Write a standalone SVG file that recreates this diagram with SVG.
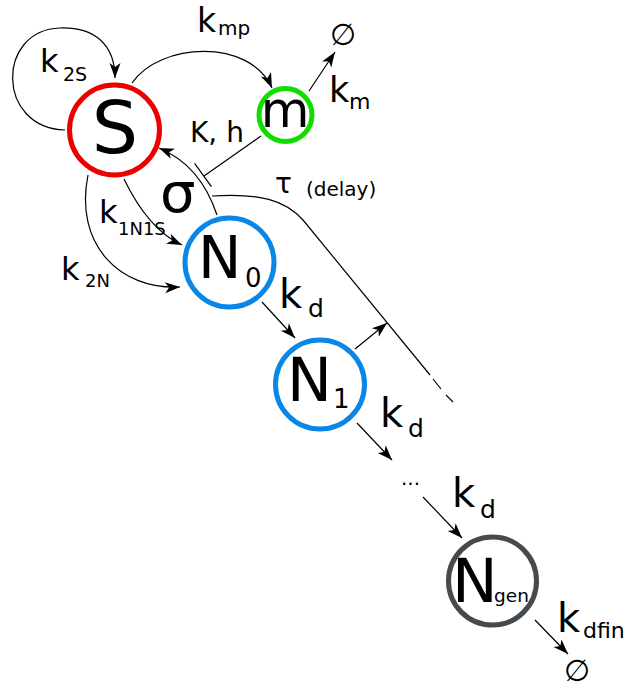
<svg xmlns="http://www.w3.org/2000/svg" width="625" height="689" viewBox="0 0 625 689">
<style>
text{font-family:"DejaVu Sans","Liberation Sans",sans-serif;fill:#000}
.node{fill:none;stroke-width:5}
.c{fill:none;stroke:#000;stroke-width:1.2}
.a{marker-end:url(#ah)}
</style>
<defs>
<marker id="ah" markerUnits="userSpaceOnUse" markerWidth="20" markerHeight="14" viewBox="-16 -7 18 14" refX="0" refY="0" orient="auto">
<path d="M0,0 L-15,-5.5 L-11,0 L-15,5.5 Z" fill="#000"/>
</marker>
</defs>
<rect width="625" height="689" fill="#fff"/>
<g id="connectors">
<path class="c a" d="M65,130 C-4,128 -4,30 60,28 C95,27 115,45 115,78"/>
<path class="c a" d="M132,83 C160,42 250,38 272,88"/>
<path class="c a" d="M309,91 L335,52"/>
<path class="c" d="M261,136 L204,176"/>
<path class="c" d="M194.6,163.3 L211.4,186.7"/>
<path class="c a" d="M217,215 C206,182 188,160 159,148"/>
<path class="c" d="M212,196 C260,193 285,200 303,220 L430,375"/>
<path class="c" d="M433,379 L441,389 M446,395 L453,402"/>
<path class="c a" d="M355,349 L387,323"/>
<path class="c a" d="M124,179 C140,212 160,235 182,245"/>
<path class="c a" d="M88,175 C74,245 120,290 180,287"/>
<path class="c a" d="M262,302 L295,338"/>
<path class="c a" d="M357,423 L392,460"/>
<path class="c a" d="M423,497 L462,538"/>
<path class="c a" d="M535,620 L568,654"/>
</g>
<g id="node-S">
<circle class="node" cx="114.5" cy="130" r="45" stroke="#ec0000"/>
<text x="115" y="153" font-size="73" text-anchor="middle">S</text>
</g>
<g id="node-m">
<circle class="node" cx="285.5" cy="115" r="26.5" stroke="#11dd00"/>
<text x="285" y="127" font-size="50" text-anchor="middle">m</text>
</g>
<g id="node-N0">
<circle class="node" cx="229.5" cy="262.5" r="44.5" stroke="#0a87e6"/>
<text x="198" y="278" font-size="58">N</text>
<text x="245" y="287" font-size="26">0</text>
</g>
<g id="node-N1">
<circle class="node" cx="320" cy="384.5" r="44.5" stroke="#0a87e6"/>
<text x="287" y="401" font-size="60">N</text>
<text x="333" y="408" font-size="26">1</text>
</g>
<g id="node-Ngen">
<circle class="node" cx="492.5" cy="581" r="44" stroke="#454a4f"/>
<text x="452" y="602" font-size="61">N</text>
<text x="494" y="602" font-size="18.5">gen</text>
</g>
<g id="labels">
<text x="40" y="72" font-size="32">k</text><text x="63" y="81" font-size="19">2S</text>
<text x="197" y="32" font-size="33">k</text><text x="218" y="35" font-size="20">mp</text>
<text x="329" y="102" font-size="35">k</text><text x="349" y="109" font-size="22">m</text>
<text x="190" y="142" font-size="28">K, h</text>
<text x="160" y="212" font-size="56">σ</text>
<text x="275" y="193" font-size="28">τ</text><text x="306" y="196" font-size="20">(delay)</text>
<text x="99" y="223" font-size="32">k</text><text x="118" y="235" font-size="18">1N1S</text>
<text x="61" y="280" font-size="32">k</text><text x="85" y="287" font-size="18">2N</text>
<text x="279" y="308" font-size="40">k</text><text x="308" y="317" font-size="25">d</text>
<text x="380" y="427" font-size="40">k</text><text x="408" y="437" font-size="25">d</text>
<text x="452" y="507" font-size="40">k</text><text x="480" y="518" font-size="25">d</text>
<text x="557" y="632" font-size="40">k</text><text x="583" y="638" font-size="22">dfin</text>
<text x="401" y="485" font-size="20">...</text>
<text x="343" y="45" font-size="30" text-anchor="middle">∅</text>
<text x="577" y="681" font-size="30" text-anchor="middle">∅</text>
</g>
</svg>
